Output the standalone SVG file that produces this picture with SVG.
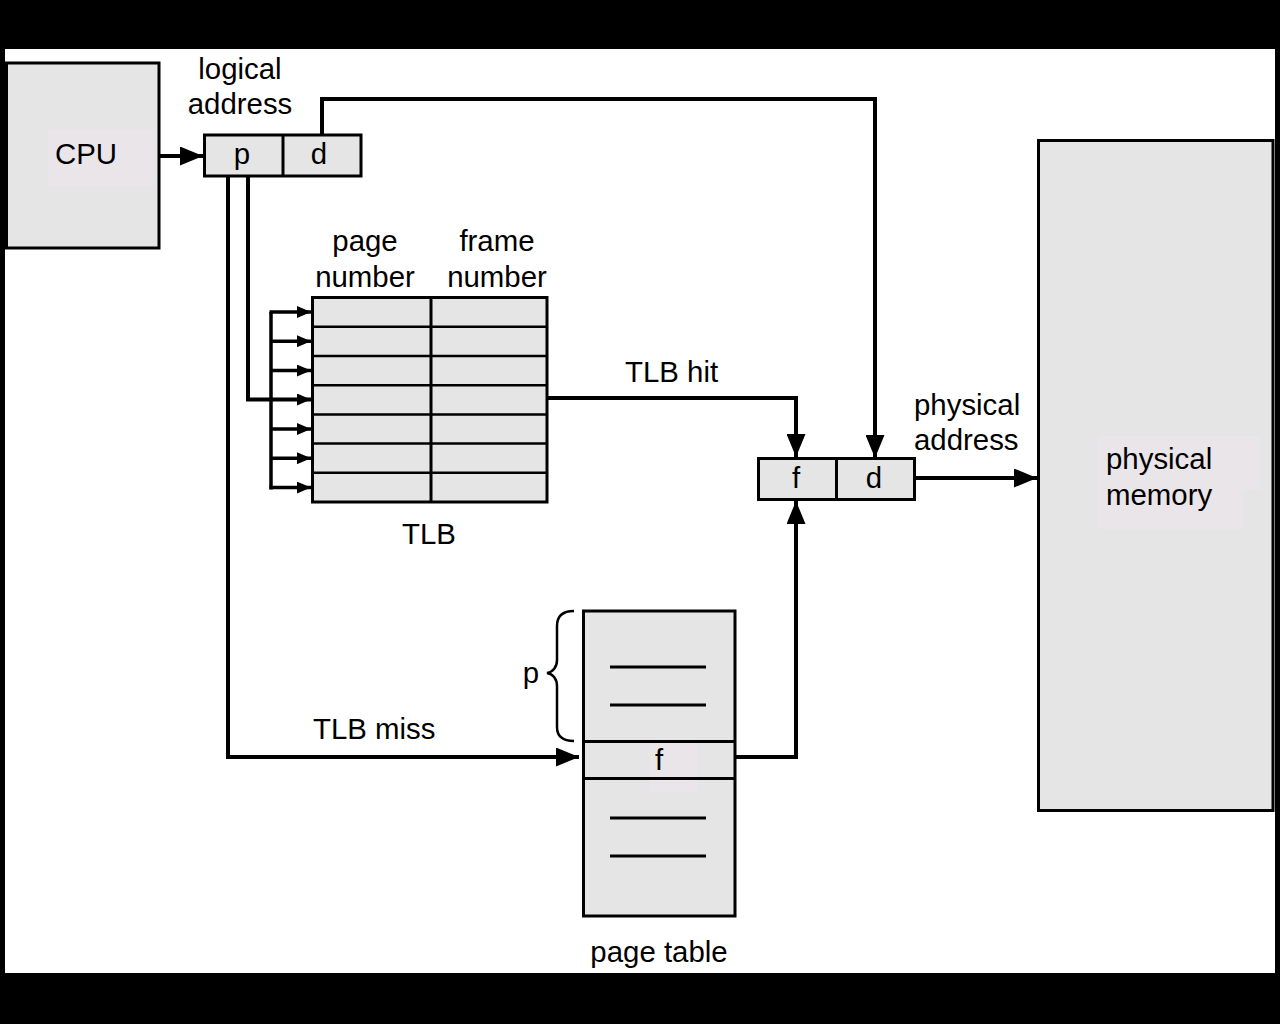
<svg xmlns="http://www.w3.org/2000/svg" width="1280" height="1024" viewBox="0 0 1280 1024">
<style>
.box{fill:#e5e5e5;stroke:#000;stroke-width:3}
.div{stroke:#000;stroke-width:3;fill:none}
.row{stroke:#000;stroke-width:2.5;fill:none}
.tbg{fill:#e9e5e8;stroke:none}
.t{font-family:"Liberation Sans",Arial,Helvetica,sans-serif;font-size:29.4px;fill:#000}
.c{stroke:#000;stroke-width:4;fill:none}
.cs{stroke:#000;stroke-width:3.5;fill:none}
</style>
<defs>
<marker id="big" viewBox="0 0 23 19" refX="23" refY="9.5" markerWidth="23" markerHeight="19" markerUnits="userSpaceOnUse" orient="auto">
<path d="M0,0 L23,9.5 L0,19 Z" fill="#000"/>
</marker>
<marker id="small" viewBox="0 0 14 12" refX="14" refY="6" markerWidth="14" markerHeight="12" markerUnits="userSpaceOnUse" orient="auto">
<path d="M0,0 L14,6 L0,12 Z" fill="#000"/>
</marker>
</defs>
<rect x="0" y="0" width="1280" height="1024" fill="#000"/>
<rect x="5" y="49" width="1270" height="924" fill="#fff"/>

<g id="cpu">
<rect class="box" x="6.5" y="63" width="152.5" height="185"/>
<rect class="tbg" x="48" y="129" width="105" height="58"/>
<text class="t" x="55" y="164">CPU</text>
</g>

<g id="logical-address">
<text class="t" x="240" y="79" text-anchor="middle">logical</text>
<text class="t" x="240" y="114" text-anchor="middle">address</text>
<rect class="box" x="204.5" y="135" width="156.5" height="41"/>
<line class="div" x1="283" y1="135" x2="283" y2="176"/>
<text class="t" x="242" y="164" text-anchor="middle">p</text>
<text class="t" x="319" y="164" text-anchor="middle">d</text>
</g>

<g id="tlb">
<text class="t" x="365" y="251" text-anchor="middle">page</text>
<text class="t" x="365" y="287" text-anchor="middle">number</text>
<text class="t" x="497" y="251" text-anchor="middle">frame</text>
<text class="t" x="497" y="287" text-anchor="middle">number</text>
<rect class="box" x="312.5" y="297.5" width="234.5" height="204.5"/>
<line class="div" x1="431" y1="297.5" x2="431" y2="502"/>
<line class="row" x1="312.5" y1="326.8" x2="547" y2="326.8"/>
<line class="row" x1="312.5" y1="356" x2="547" y2="356"/>
<line class="row" x1="312.5" y1="385.2" x2="547" y2="385.2"/>
<line class="row" x1="312.5" y1="414.4" x2="547" y2="414.4"/>
<line class="row" x1="312.5" y1="443.6" x2="547" y2="443.6"/>
<line class="row" x1="312.5" y1="472.8" x2="547" y2="472.8"/>
<text class="t" x="429" y="544" text-anchor="middle">TLB</text>
</g>

<g id="physical-address">
<text class="t" x="914" y="415">physical</text>
<text class="t" x="914" y="450">address</text>
<rect class="box" x="758.5" y="458.5" width="156" height="41"/>
<line class="div" x1="836.5" y1="458.5" x2="836.5" y2="499.5"/>
<text class="t" x="796" y="488" text-anchor="middle">f</text>
<text class="t" x="874" y="488" text-anchor="middle">d</text>
</g>

<g id="physical-memory">
<rect class="box" x="1038.5" y="140.5" width="234.5" height="670"/>
<path class="tbg" d="M1098,436 H1260 V490 H1243 V529 H1098 Z"/>
<text class="t" x="1106" y="469">physical</text>
<text class="t" x="1106" y="505">memory</text>
</g>

<g id="page-table">
<rect class="box" x="583.5" y="611" width="151.5" height="305"/>
<rect class="tbg" x="650" y="742" width="48" height="50"/>
<line class="div" x1="583.5" y1="741.5" x2="735" y2="741.5"/>
<line class="div" x1="583.5" y1="778.5" x2="735" y2="778.5"/>
<line class="div" x1="610" y1="667" x2="706" y2="667"/>
<line class="div" x1="610" y1="705" x2="706" y2="705"/>
<line class="div" x1="610" y1="818" x2="706" y2="818"/>
<line class="div" x1="610" y1="856" x2="706" y2="856"/>
<text class="t" x="659" y="770" text-anchor="middle">f</text>
<path d="M574,611 C562,611 557,616 557,626 V660 C557,667 553,672 547,673 C553,674 557,679 557,686 V727 C557,736 562,741 574,741" fill="none" stroke="#000" stroke-width="2.5"/>
<text class="t" x="531" y="683" text-anchor="middle">p</text>
<text class="t" x="659" y="962" text-anchor="middle">page table</text>
</g>

<g id="connectors">
<line class="c" x1="159" y1="156" x2="203" y2="156" marker-end="url(#big)"/>
<path class="c" d="M322,135 V99 H875 V458" marker-end="url(#big)"/>
<path class="c" d="M248,176 V399.5 H311" marker-end="url(#small)"/>
<line class="cs" x1="271" y1="312" x2="271" y2="489.5"/>
<line class="cs" x1="269.5" y1="312" x2="311" y2="312" marker-end="url(#small)"/>
<line class="cs" x1="271" y1="341.2" x2="311" y2="341.2" marker-end="url(#small)"/>
<line class="cs" x1="271" y1="370.6" x2="311" y2="370.6" marker-end="url(#small)"/>
<line class="cs" x1="271" y1="429" x2="311" y2="429" marker-end="url(#small)"/>
<line class="cs" x1="271" y1="458.2" x2="311" y2="458.2" marker-end="url(#small)"/>
<line class="cs" x1="269.5" y1="487.6" x2="311" y2="487.6" marker-end="url(#small)"/>
<path class="c" d="M228,176 V757 H579" marker-end="url(#big)"/>
<text class="t" x="313" y="739">TLB miss</text>
<path class="c" d="M547,398 H796 V457" marker-end="url(#big)"/>
<text class="t" x="625" y="382">TLB hit</text>
<path class="c" d="M735,757 H796 V501" marker-end="url(#big)"/>
<line class="c" x1="915" y1="478" x2="1037" y2="478" marker-end="url(#big)"/>
</g>
</svg>
